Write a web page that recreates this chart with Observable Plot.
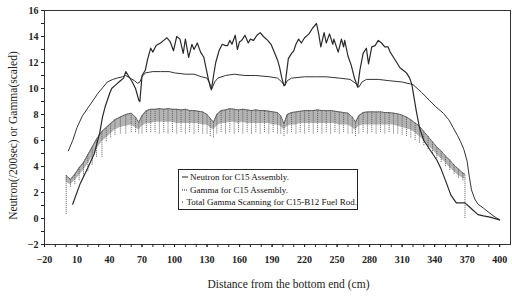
<!DOCTYPE html>
<html><head><meta charset="utf-8">
<script src="https://cdn.jsdelivr.net/npm/d3@7"></script>
<script src="https://cdn.jsdelivr.net/npm/@observablehq/plot@0.6"></script>
<style>
html,body{margin:0;padding:0;background:#fff;}
#wrap{position:relative;width:512px;height:296px;overflow:hidden;}
#legend{position:absolute;left:178px;top:169px;width:180px;height:41px;border:1px solid #222;box-sizing:border-box;background:#fff;
 font-family:"Liberation Serif",serif;font-size:9px;color:#111;padding-top:1px;}
#legend .row{height:12.6px;line-height:12.6px;white-space:nowrap;display:flex;align-items:center;}
#legend svg{margin:0 2px 0 3px;}
</style></head>
<body><div id="wrap"><div id="legend"></div></div>
<script>
const xTicks = [-20,10,40,70,100,130,160,190,220,250,280,310,340,370,400];
const yTicks = [-2,0,2,4,6,8,10,12,14,16];
const xLabel = "Distance from the bottom end (cm)";
const yLabel = "Neutron(/200sec) or Gamma(scaled)";
const seriesNames = ["Neutron for C15 Assembly.","Gamma for C15 Assembly.","Total Gamma Scanning for C15-B12 Fuel Rod."];

const neutronX = [6,13,20,26,31,33.5,36,38,40,42,46,50,53,55,58,61,64,67,68,70,73,75,78,80,83,87,90,93,96,99,102,105,108,110,113,116,118,121,124,127,129,131,133,134,136,138,141,144,147,149,151,153,156,158,160,162,165,168,170,173,176,179,182,186,189,192,195,197,199,201,202,205,208,210,212,214.5,217,220,224,227,231,233,235,238,240,243,246,247,251,254,256,257,260,263,266,269,271,274,277,279,282,285,288,291,294,297,299,302,305,308,311,314,317,319,321,323,326,330,334,338,342,346,351,355,360,364,368,372,376,380,385,391,400];
const neutronY = [1.1,2.7,3.9,5.0,6.6,7.8,8.6,9.1,9.6,10.0,10.3,10.6,10.8,11.3,10.9,10.5,10.0,9.1,9.0,11.0,11.4,12.2,13.1,12.8,13.3,13.5,13.7,13.9,13.6,12.9,14.0,13.8,12.7,13.8,12.4,13.4,13.0,13.5,12.8,12.4,11.6,10.8,10.1,9.9,11.0,12.0,12.9,13.4,13.3,13.3,13.7,13.4,14.1,13.0,13.6,13.7,14.1,13.5,13.8,13.7,14.1,14.3,14.0,13.7,13.4,12.8,12.2,11.6,10.8,10.2,10.3,12.3,12.7,12.9,13.4,13.8,13.5,13.9,14.2,14.6,15.0,14.2,13.2,14.3,13.5,14.2,13.4,13.8,12.8,13.8,13.2,13.7,12.5,11.8,10.8,10.1,11.4,12.7,13.1,11.9,13.2,13.3,13.7,13.5,13.2,13.2,12.8,12.4,12.0,11.6,11.4,11.2,10.8,10.3,9.3,8.3,7.0,6.0,5.5,5.0,4.5,3.8,2.7,1.8,1.2,1.2,1.2,0.9,0.6,0.3,0.2,0.1,-0.1];

const gammaX = [2,6,10,15,20,25,29,34,38,43,47,52,55,59,63,66,68,70,73,80,87,95,100,110,118,125,130,133,134.5,137,140,147,155,165,175,188,195,199,201.5,204,208,220,231,240,252,262,267,270,273,277,288,298,310,320,328,335,341,348,353,357,361,364,367,370,372,374,377,380,385,391,396,400];
const gammaY = [5.2,6.0,7.0,7.9,8.5,9.1,9.6,10.1,10.5,10.7,10.8,10.9,11.0,10.8,10.6,10.4,10.5,10.9,11.2,11.3,11.3,11.3,11.2,11.1,11.1,10.9,10.8,10.3,10.0,10.5,10.8,11.0,11.1,11.0,11.0,10.9,10.8,10.5,10.2,10.6,10.8,10.9,10.9,10.9,10.8,10.7,10.4,10.1,10.5,10.7,10.7,10.6,10.5,10.3,9.7,9.1,8.6,8.1,7.6,7.0,6.4,5.9,5.3,4.4,3.2,2.2,1.5,1.1,0.8,0.4,0.1,-0.1];

const totalX    = [0,4,8,12,16,20,24,28,33,37,41,45,50,55,60,64,67,70,74,78,82,86,90,94,98,102,106,110,114,118,122,126,130,133,136,139,143,147,151,155,159,163,167,171,175,179,183,187,191,195,198,201,204,208,212,216,220,224,228,232,236,240,244,248,252,256,260,264,267,270,274,278,282,286,290,294,298,302,306,310,314,318,322,326,330,334,338,342,346,350,354,358,362,366,368];
const totalHi   = [3.3,3.0,3.4,3.9,4.3,4.9,5.5,6.1,6.7,7.0,7.3,7.6,7.8,8.0,8.1,7.8,7.4,7.9,8.3,8.4,8.4,8.45,8.4,8.45,8.4,8.4,8.35,8.4,8.3,8.3,8.25,8.2,8.0,7.7,7.4,8.0,8.3,8.35,8.45,8.4,8.35,8.4,8.35,8.3,8.35,8.3,8.3,8.25,8.2,8.15,7.9,7.3,8.0,8.15,8.2,8.25,8.3,8.3,8.3,8.35,8.3,8.3,8.3,8.25,8.2,8.15,8.1,7.8,7.4,7.9,8.15,8.2,8.2,8.2,8.2,8.15,8.15,8.1,8.05,7.95,7.8,7.6,7.35,7.1,6.7,6.3,5.9,5.5,5.2,4.8,4.5,4.1,3.8,3.5,3.4];
const totalBody = [2.8,2.6,2.9,3.3,3.7,4.2,4.7,5.3,5.9,6.2,6.5,6.8,7.0,7.1,7.2,7.0,6.8,7.1,7.3,7.3,7.4,7.4,7.4,7.4,7.4,7.3,7.3,7.3,7.3,7.3,7.3,7.2,7.2,7.0,6.8,7.1,7.3,7.3,7.4,7.4,7.3,7.4,7.3,7.3,7.3,7.3,7.3,7.3,7.2,7.2,7.1,6.8,7.1,7.2,7.2,7.3,7.3,7.3,7.3,7.3,7.3,7.3,7.3,7.3,7.2,7.2,7.2,7.0,6.8,7.1,7.2,7.2,7.2,7.2,7.2,7.2,7.2,7.2,7.1,7.0,6.9,6.8,6.6,6.3,6.0,5.6,5.3,4.9,4.6,4.3,3.9,3.6,3.3,3.1,3.0];
const totalMin  = [0.3,2.4,2.6,2.9,3.2,3.6,4.1,4.7,4.7,5.9,6.2,6.4,6.5,6.5,6.6,6.6,6.5,6.5,6.6,6.6,6.6,6.5,6.6,6.5,6.6,6.5,6.6,6.5,6.6,6.5,6.6,6.5,6.5,6.3,6.2,6.5,6.6,6.5,6.6,6.5,6.6,6.5,6.6,6.5,6.6,6.5,6.6,6.5,6.6,6.5,6.5,6.3,6.5,6.6,6.5,6.6,6.5,6.6,6.5,6.6,6.5,6.6,6.5,6.6,6.5,6.6,6.5,6.5,6.3,6.5,6.6,6.5,6.6,6.5,6.6,6.5,6.6,6.5,6.5,6.4,6.3,6.2,6.0,5.8,5.6,5.3,5.0,4.6,4.3,4.0,3.7,3.4,3.1,2.9,0.0];

const neutron = neutronX.map((x,i)=>({x, y: neutronY[i]}));
const gamma = gammaX.map((x,i)=>({x, y: gammaY[i]}));
const total = totalX.map((x,i)=>({x, hi: totalHi[i], lo: totalBody[i], min: totalMin[i]}));
const xMinor = d3.range(-20, 401, 10);
const yMinor = d3.range(-2, 16.01, 1);

const plot = Plot.plot({
  width: 512, height: 296,
  marginLeft: 44, marginRight: 2, marginTop: 10, marginBottom: 52,
  x: {domain: [-20, 410]},
  y: {domain: [-2, 16]},
  style: {fontFamily: "Liberation Serif", fontSize: "10px", fontWeight: "bold", color: "#222", background: "#fff"},
  marks: [
    Plot.areaY(total, {x: "x", y1: "lo", y2: "hi", fill: "#b4b4b4"}),
    Plot.ruleX(total, {x: "x", y1: "min", y2: "hi", stroke: "#555", strokeWidth: 0.8, strokeDasharray: "1.2,0.8"}),
    Plot.line(total, {x: "x", y: "hi", stroke: "#555", strokeWidth: 1, strokeDasharray: "1,1"}),
    Plot.line(gamma, {x: "x", y: "y", stroke: "#333", strokeWidth: 1}),
    Plot.line(neutron, {x: "x", y: "y", stroke: "#2a2a2a", strokeWidth: 1.2}),
    Plot.frame({stroke: "#333"}),
    Plot.axisX({ticks: xMinor, tickSize: 3, tickFormat: () => "", label: null}),
    Plot.axisX({ticks: xTicks, tickSize: 3, tickPadding: 8, label: null}),
    Plot.axisY({ticks: yMinor, tickSize: 3, tickFormat: () => "", label: null}),
    Plot.axisY({ticks: yTicks, tickSize: 3, tickPadding: 3, label: null}),
    Plot.text([xLabel], {frameAnchor: "bottom", dx: 11, dy: 43, fontSize: 11.5, fontWeight: "normal", text: d => d}),
    Plot.text([yLabel], {frameAnchor: "left", textAnchor: "middle", dx: -31, dy: 8, rotate: -90, fontSize: 11.5, fontWeight: "normal", text: d => d})
  ]
});
const wrap = document.getElementById("wrap");
wrap.insertBefore(plot, wrap.firstChild);

const dashes = ["", "1,1", "1,1"];
const legend = document.getElementById("legend");
seriesNames.forEach((name, i) => {
  const row = document.createElement("div");
  row.className = "row";
  row.innerHTML = `<svg width="6" height="4"><line x1="0" x2="6" y1="2" y2="2" stroke="#222" stroke-width="1" ${dashes[i] ? `stroke-dasharray="${dashes[i]}"` : ""}/></svg><span>${name}</span>`;
  legend.appendChild(row);
});
</script>
</body></html>
